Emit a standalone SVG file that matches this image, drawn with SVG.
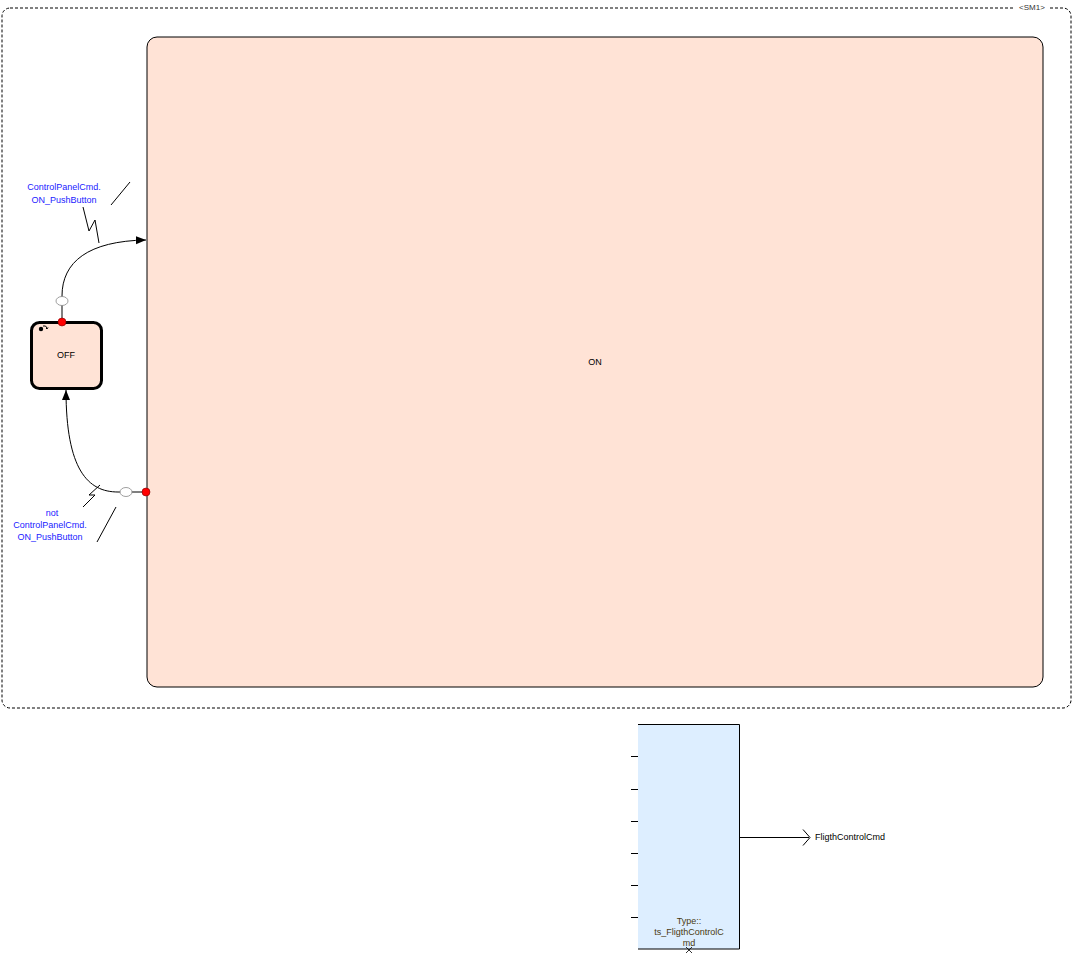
<svg xmlns="http://www.w3.org/2000/svg" width="1073" height="955" viewBox="0 0 1073 955">
<style>
text{font-family:"Liberation Sans",Arial,sans-serif;font-size:9px}
.lbl{fill:#1a1aff;text-anchor:middle}
.st{fill:#ffe3d6;stroke:#000}
.ln{fill:none;stroke:#000;stroke-width:1}
.pt{fill:#fff;stroke:#888;stroke-width:0.8}
.rd{fill:#ff0000;stroke:#800000;stroke-width:0.6}
</style>
<defs>
<marker id="ah" markerWidth="11" markerHeight="10" refX="10" refY="4" orient="auto" markerUnits="userSpaceOnUse">
<path d="M0,0 L10,4 L0,8 Z" fill="#000"/>
</marker>
</defs>
<rect width="1073" height="955" fill="#fff"/>
<g id="SM1">
<rect x="2" y="8" width="1069" height="700" rx="8" fill="none" stroke="#000" stroke-dasharray="3,2"/>
<rect x="1015" y="2" width="34" height="10" fill="#fff"/>
<text x="1032" y="10" text-anchor="middle" style="font-size:8px" fill="#333">&lt;SM1&gt;</text>
</g>
<g id="ON">
<rect class="st" x="147" y="37" width="896" height="650" rx="10"/>
<text x="595" y="365" text-anchor="middle">ON</text>
</g>
<g id="OFF">
<rect class="st" x="31.5" y="322.5" width="70" height="66" rx="8" stroke-width="3"/>
<circle cx="41" cy="329" r="2.2" fill="#000"/>
<path d="M43,326 Q46,325 47,328" class="ln" stroke-width="0.8"/>
<path d="M46,328 l1,1 l1,-1.5" class="ln" stroke-width="0.8"/>
<text x="66" y="358" text-anchor="middle">OFF</text>
</g>
<g id="connectors">
<path class="ln" d="M62,322 L62,296 C62,262 88,241 146,240" marker-end="url(#ah)"/>
<ellipse class="pt" cx="62" cy="301" rx="6" ry="4.5"/>
<circle class="rd" cx="62" cy="322" r="4"/>
<polyline class="ln" points="83,207 89,231 95,220 99,243"/>
<line class="ln" x1="111" y1="205" x2="130" y2="182"/>
<text class="lbl" x="64" y="190">ControlPanelCmd.</text>
<text class="lbl" x="64" y="203">ON_PushButton</text>

<path class="ln" d="M146,492 L118,492 C88,492 66,470 66,390" marker-end="url(#ah)"/>
<ellipse class="pt" cx="126" cy="492" rx="6" ry="4.5"/>
<circle class="rd" cx="146" cy="492" r="4"/>
<polyline class="ln" points="100,485 89,495 95,495 83,507"/>
<line class="ln" x1="116" y1="507" x2="97" y2="542"/>
<text class="lbl" x="52" y="516">not</text>
<text class="lbl" x="50" y="528">ControlPanelCmd.</text>
<text class="lbl" x="50" y="540">ON_PushButton</text>
</g>
<g id="block">
<rect x="638" y="724.5" width="101.5" height="224.5" fill="#ddeeff"/>
<path class="ln" d="M638,724.5 H739.5 V949 H638"/>
<g stroke="#000">
<line x1="631" y1="756.5" x2="638" y2="756.5"/>
<line x1="631" y1="789.5" x2="638" y2="789.5"/>
<line x1="631" y1="821.5" x2="638" y2="821.5"/>
<line x1="631" y1="853.5" x2="638" y2="853.5"/>
<line x1="631" y1="885.5" x2="638" y2="885.5"/>
<line x1="631" y1="917.5" x2="638" y2="917.5"/>
</g>
<path d="M686,947 l6,6 M692,947 l-6,6" stroke="#000" stroke-width="0.8"/>
<g style="font-size:8px" fill="#4a3a10" text-anchor="middle">
<text x="689" y="924">Type::</text>
<text x="689" y="935">ts_FligthControlC</text>
<text x="689" y="946">md</text>
</g>
</g>
<g id="output">
<line class="ln" x1="740" y1="837.5" x2="809" y2="837.5"/>
<polyline class="ln" points="803,829.5 810,837.5 803,845.5"/>
<text x="815" y="840">FligthControlCmd</text>
</g>
</svg>
